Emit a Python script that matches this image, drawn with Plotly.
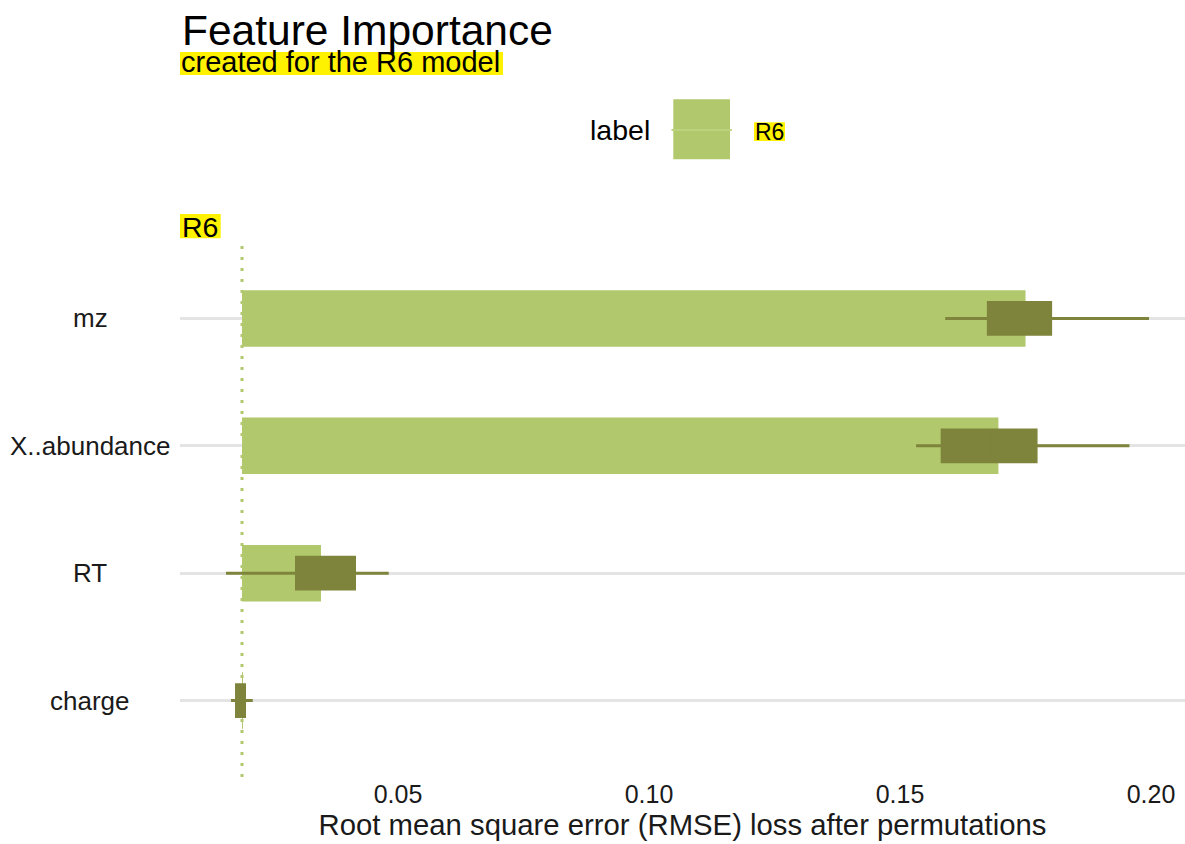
import plotly.graph_objects as go

# Permutation feature importance for the R6 model (bottom to top on the axis)
features = ["charge", "RT", "X..abundance", "mz"]
baseline_loss = 0.01892
mean_loss = [0.0190, 0.03466, 0.1696, 0.1750]
box_q1 = [0.01783, 0.02978, 0.1584, 0.1676]
box_median = [0.01860, 0.0355, 0.1680, 0.1740]
box_q3 = [0.01942, 0.04133, 0.1771, 0.1800]
box_min = [0.01673, 0.01574, 0.1532, 0.1590]
box_max = [0.02106, 0.04815, 0.1957, 0.1996]
x_ticks = [0.05, 0.10, 0.15, 0.20]
x_tick_labels = ["0.05", "0.10", "0.15", "0.20"]
model_label = "R6"

BAR_COLOR = "#b1c86c"
BOX_COLOR = "#7e843b"
GRID_COLOR = "#e4e4e4"
HIGHLIGHT = "#fff200"
FONT = "Liberation Sans, Arial, Helvetica, sans-serif"

# plot-area geometry in pixels
W_FIG, H_FIG = 1185, 844
L, T, R, B = 180, 242, 1185, 777
PW, PH = R - L, B - T


def fx(px):
    return (px - L) / PW


def fy(py):
    return (B - py) / PH


fig = go.Figure()

fig.add_trace(go.Bar(
    y=features,
    x=[m - baseline_loss for m in mean_loss],
    base=baseline_loss,
    orientation="h",
    width=0.444,
    marker=dict(color=BAR_COLOR, line=dict(width=0)),
    name=model_label,
    showlegend=False,
))

fig.add_trace(go.Box(
    y=features,
    q1=box_q1,
    median=box_median,
    q3=box_q3,
    lowerfence=box_min,
    upperfence=box_max,
    orientation="h",
    width=0.25,
    whiskerwidth=0,
    fillcolor=BOX_COLOR,
    line=dict(color=BOX_COLOR, width=3),
    boxpoints=False,
    name=model_label,
    showlegend=False,
))

shapes = [
    # baseline (full model loss), behind the bars and boxes
    dict(type="line", xref="x", yref="paper", x0=baseline_loss, x1=baseline_loss,
         y0=0, y1=1, line=dict(color=BAR_COLOR, width=3, dash="3px,8px"), layer="between"),
    # subtitle highlight
    dict(type="rect", xref="paper", yref="paper", x0=fx(180), x1=fx(503),
         y0=fy(75), y1=fy(52), fillcolor=HIGHLIGHT, line=dict(width=0), layer="below"),
    # facet strip highlight
    dict(type="rect", xref="paper", yref="paper", x0=fx(180), x1=fx(220.7),
         y0=fy(238.3), y1=fy(214), fillcolor=HIGHLIGHT, line=dict(width=0), layer="below"),
    # legend key
    dict(type="rect", xref="paper", yref="paper", x0=fx(673.3), x1=fx(730),
         y0=fy(159.3), y1=fy(99.3), fillcolor=BAR_COLOR, line=dict(width=0)),
    dict(type="line", xref="paper", yref="paper", x0=fx(671.5), x1=fx(731.8),
         y0=fy(130), y1=fy(130), line=dict(color="#bcd27e", width=2)),
    # legend label highlight
    dict(type="rect", xref="paper", yref="paper", x0=fx(754), x1=fx(785),
         y0=fy(141), y1=fy(122.3), fillcolor=HIGHLIGHT, line=dict(width=0)),
]

annotations = [
    dict(text="Feature Importance", xref="paper", yref="paper", x=fx(180), y=fy(31),
         xanchor="left", yanchor="middle", showarrow=False,
         font=dict(family=FONT, size=42.5, color="#000000")),
    dict(text="created for the " + model_label + " model", xref="paper", yref="paper",
         x=fx(179), y=fy(62), xanchor="left", yanchor="middle", showarrow=False,
         font=dict(family=FONT, size=29, color="#000000")),
    dict(text=model_label, xref="paper", yref="paper", x=fx(200.3), y=fy(227),
         xanchor="center", yanchor="middle", showarrow=False,
         font=dict(family=FONT, size=28.5, color="#000000")),
    dict(text="label", xref="paper", yref="paper", x=fx(588), y=fy(130),
         xanchor="left", yanchor="middle", showarrow=False,
         font=dict(family=FONT, size=28.5, color="#000000")),
    dict(text=model_label, xref="paper", yref="paper", x=fx(769.5), y=fy(131.5),
         xanchor="center", yanchor="middle", showarrow=False,
         font=dict(family=FONT, size=23, color="#000000")),
]

# category labels, centred in the left margin
for f in features:
    annotations.append(dict(
        text=f, xref="paper", yref="y", x=fx(90), y=f,
        xanchor="center", yanchor="middle", showarrow=False,
        font=dict(family=FONT, size=26, color="#1a1a1a"),
    ))

fig.update_layout(
    width=W_FIG, height=H_FIG,
    margin=dict(l=L, r=W_FIG - R, t=T, b=H_FIG - B, pad=0),
    paper_bgcolor="white", plot_bgcolor="white",
    font=dict(family=FONT, color="#1a1a1a"),
    showlegend=False,
    shapes=shapes,
    annotations=annotations,
    xaxis=dict(
        range=[0.00657, 0.20677],
        tickvals=x_ticks, ticktext=x_tick_labels,
        tickfont=dict(family=FONT, size=25, color="#1a1a1a"),
        showgrid=False, zeroline=False, showline=False, ticks="",
        title=dict(text="Root mean square error (RMSE) loss after permutations",
                   font=dict(family=FONT, size=29.3, color="#1a1a1a"), standoff=5),
        fixedrange=True,
    ),
    yaxis=dict(
        type="category", categoryorder="array", categoryarray=features,
        range=[-0.6, 3.6],
        showgrid=True, gridcolor=GRID_COLOR, gridwidth=3,
        showticklabels=False, zeroline=False, showline=False, ticks="",
        fixedrange=True,
    ),
)

fig.write_html("out.html")
